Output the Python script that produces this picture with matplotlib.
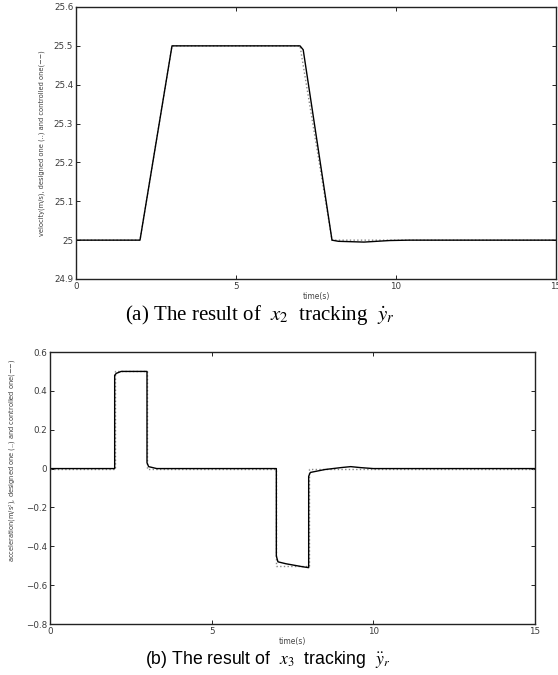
import matplotlib
matplotlib.use("Agg")
import matplotlib.pyplot as plt

plt.rcParams['mathtext.fontset'] = 'stix'

# Velocity: designed reference and controlled response
t_vel_design = [0, 2, 3, 7, 8, 15]
v_design = [25.0, 25.0, 25.5, 25.5, 25.0, 25.0]
t_vel_ctrl = [0, 2.0, 3.0, 7.0, 7.1, 8.0, 8.2, 8.6, 9.0, 9.4, 9.8, 10.4, 15]
v_ctrl = [25.0, 25.0, 25.5, 25.5, 25.49, 25.0, 24.997, 24.996, 24.995, 24.997, 24.999, 25.0, 25.0]

# Acceleration: designed reference and controlled response
t_acc_design = [0, 2.0, 2.0, 3.0, 3.0, 7.0, 7.0, 8.0, 8.0, 15]
a_design = [0.0, 0.0, 0.5, 0.5, 0.0, 0.0, -0.5, -0.5, 0.0, 0.0]
t_acc_ctrl = [0, 2.0, 2.0, 2.05, 2.2, 3.0, 3.0, 3.05, 3.3, 7.0, 7.0, 7.05, 7.3, 7.8, 8.0, 8.0, 8.05, 8.5, 9.0, 9.3, 9.6, 10.0, 15]
a_ctrl = [0.0, 0.0, 0.48, 0.49, 0.5, 0.5, 0.03, 0.01, 0.0, 0.0, -0.45, -0.48, -0.49, -0.505, -0.51, -0.04, -0.02, -0.005, 0.005, 0.01, 0.005, 0.0, 0.0]

vel_yticks = [24.9, 25.0, 25.1, 25.2, 25.3, 25.4, 25.5, 25.6]
vel_yticklabels = ['24.9', '25', '25.1', '25.2', '25.3', '25.4', '25.5', '25.6']
acc_yticks = [-0.8, -0.6, -0.4, -0.2, 0.0, 0.2, 0.4, 0.6]
acc_yticklabels = ['\u22120.8', '\u22120.6', '\u22120.4', '\u22120.2', '0', '0.2', '0.4', '0.6']
xticks = [0, 5, 10, 15]

W, H = 558, 675
fig = plt.figure(figsize=(W / 100, H / 100), dpi=100)

def px_axes(left, top, right, bottom):
    return fig.add_axes([left / W, 1 - bottom / H, (right - left) / W, (bottom - top) / H])

def style(ax, yticks, yticklabels, ylabel, label_y):
    ax.set_xlim(0, 15)
    ax.set_xticks(xticks)
    ax.set_xticklabels([str(x) for x in xticks])
    ax.set_yticks(yticks)
    ax.set_yticklabels(yticklabels)
    ax.set_ylim(yticks[0], yticks[-1])
    ax.tick_params(direction='in', length=3, width=0.6, labelsize=6.3,
                   labelcolor='#3a3a3a', top=True, right=True, pad=2)
    for s in ax.spines.values():
        s.set_linewidth(1.0)
        s.set_color('#222222')
    ax.set_xlabel('time(s)', fontsize=5.5, color='#444444', labelpad=1)
    ax.set_ylabel(ylabel, fontsize=4.8, color='#3a3a3a', labelpad=3)
    ax.yaxis.set_label_coords(ax.yaxis.get_label().get_position()[0], label_y)

ax1 = px_axes(76, 7, 556, 279)
ax1.plot(t_vel_design, v_design, color='#888888', linestyle=':', linewidth=1.0)
ax1.plot(t_vel_ctrl, v_ctrl, color='black', linewidth=1.0)
style(ax1, vel_yticks, vel_yticklabels,
      'velocity(m/s), designed one (..) and controlled one(\u2212\u2212)', 0.5)
ax1.yaxis.set_label_coords(-0.065, 0.5)

ax2 = px_axes(50, 352, 535, 624)
ax2.plot(t_acc_design, a_design, color='#888888', linestyle=':', linewidth=1.0)
ax2.plot(t_acc_ctrl, a_ctrl, color='black', linewidth=1.0)
style(ax2, acc_yticks, acc_yticklabels,
      'acceleration(m/s$^2$), designed one (..) and controlled one(\u2212\u2212)', 0.6)
ax2.yaxis.set_label_coords(-0.065, 0.6)

fig.text(125 / W, 1 - 315 / H, r'(a) The result of  $x_2$  tracking  $\dot{y}_r$',
         family='Liberation Serif', fontsize=15, va='center', ha='left')
fig.text(145 / W, 1 - 660 / H, r'(b) The result of  $x_3$  tracking  $\ddot{y}_r$',
         family='Liberation Sans', fontsize=12.7, va='center', ha='left')

fig.savefig('out.png', dpi=100, facecolor='white')
